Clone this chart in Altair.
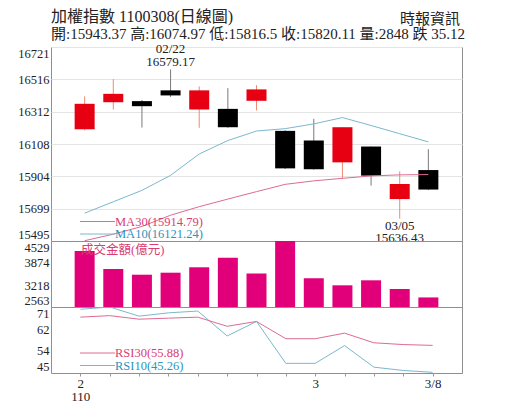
import altair as alt
import pandas as pd

# ---------------- data ----------------
dates = ["02/17", "02/18", "02/19", "02/22", "02/23", "02/24", "02/25",
         "02/26", "03/02", "03/03", "03/04", "03/05", "03/08"]
open_ = [16201, 16372, 16379, 16447, 16326, 16330, 16381, 16191, 16130,
         15992, 16092, 15760, 15943.37]
high = [16409, 16518, 16387, 16579.17, 16472, 16461, 16480, 16195, 16267,
        16214, 16092, 15935, 16074.97]
low = [16195, 16326, 16212, 16405, 16210, 16210, 16320, 15950, 15945,
       15887, 15845, 15636.43, 15816.5]
close = [16362, 16425, 16347, 16415, 16447, 16214, 16453, 15954, 15948,
         16214, 15908, 15855.23, 15820.11]
volume = [4231, 3695, 3525, 3585, 3746, 4032, 3561, 4529, 3418, 3209,
          3358, 3099, 2848]
ma10 = [15671, 15743, 15815, 15910, 16045, 16130, 16190, 16205, 16235,
        16275, 16225, 16173, 16121.24]
ma30 = [15497, 15538, 15587, 15658, 15712, 15760, 15807, 15853, 15875,
        15891, 15906, 15913, 15914.79]
rsi10 = [70.1, 71.0, 67.4, 68.7, 69.4, 59.6, 65.3, 48.8, 48.8, 55.8, 47.3,
         46.0, 45.26]
rsi30 = [67.0, 67.6, 66.2, 66.6, 67.0, 63.4, 65.3, 58.5, 58.5, 60.7, 56.9,
         56.2, 55.88]

price_ticks = [15495, 15699, 15904, 16108, 16312, 16516, 16721]
vol_ticks = [2563, 3218, 3874, 4529]
rsi_ticks = [45, 54, 62, 71]
x_label_pos = [1, 9, 13]
x_label_text = [["2", "110"], "3", "3/8"]

title_text = "加權指數 1100308(日線圖)"
info_text = "開:15943.37 高:16074.97 低:15816.5 收:15820.11 量:2848 跌 35.12"
source_text = "時報資訊"
vol_title = "成交金額(億元)"

idx = list(range(1, len(dates) + 1))
df = pd.DataFrame({"i": idx, "date": dates, "open": open_, "high": high,
                   "low": low, "close": close, "vol": volume,
                   "ma10": ma10, "ma30": ma30, "rsi10": rsi10,
                   "rsi30": rsi30})

# ---------------- styles ----------------
W = 411
H1, H2, H3 = 194, 66, 66
SERIF = "Liberation Serif, Noto Sans CJK TC"
RED = "#e60012"
RED_WICK = "#f08a70"
BLK_WICK = "#7a7a7a"
PINK = "#d93d73"
PINK_LINE = "#dd6b92"
BLUE = "#2d93bd"
BLUE_LINE = "#7ab8cf"
MAG = "#e2007a"
TXT = "#222222"

xs = alt.Scale(domain=[0, len(dates) + 1], nice=False)
x_none = alt.X("i:Q", scale=xs, axis=None)
up = "datum.close >= datum.open"


def one(text):
    return pd.DataFrame({"t": [text]})


def label(text, x, y, color, size, align="left", baseline="middle"):
    return alt.Chart(one(text)).mark_text(
        align=align, baseline=baseline, color=color, font=SERIF,
        fontSize=size).encode(x=alt.value(x), y=alt.value(y), text="t:N")


def swatch(x1, x2, y, color):
    return alt.Chart(one("s")).mark_rule(color=color, strokeWidth=1).encode(
        x=alt.value(x1), x2=alt.value(x2), y=alt.value(y))


def y_axis(vals, grid):
    return alt.Axis(values=vals, title=None, grid=grid, gridColor="#e4e4e4",
                    ticks=False, domain=False, labelFlush=True,
                    labelOverlap=False, labelBound=False, format="d",
                    labelFont=SERIF, labelFontSize=12.5, labelColor=TXT,
                    labelPadding=2)


# ---------------- price panel ----------------
ps = alt.Scale(domain=[price_ticks[0], price_ticks[-1]], nice=False, zero=False)
PA = y_axis(price_ticks, True)


def py(field):
    return alt.Y(f"{field}:Q", scale=ps, axis=PA)


wick = alt.Chart(df).mark_rule(strokeWidth=1).encode(
    x=x_none, y=py("low"), y2="high:Q",
    color=alt.condition(up, alt.value(RED_WICK), alt.value(BLK_WICK)))
body = alt.Chart(df).mark_bar(size=20).encode(
    x=x_none, y=py("open"), y2="close:Q",
    color=alt.condition(up, alt.value(RED), alt.value("#000000")))
l_ma10 = alt.Chart(df).mark_line(strokeWidth=1, color=BLUE_LINE).encode(
    x=x_none, y=py("ma10"))
l_ma30 = alt.Chart(df).mark_line(strokeWidth=1, color=PINK_LINE).encode(
    x=x_none, y=py("ma30"))

hi_k = high.index(max(high))
lo_k = low.index(min(low))
df_hi = pd.DataFrame({"i": [idx[hi_k]], "v": [high[hi_k]],
                      "d": [dates[hi_k]], "s": [f"{high[hi_k]:.2f}"]})
df_lo = pd.DataFrame({"i": [idx[lo_k]], "v": [low[lo_k]],
                      "d": [dates[lo_k]], "s": [f"{low[lo_k]:.2f}"]})


def ann(d, field, dy):
    return alt.Chart(d).mark_text(font=SERIF, fontSize=13, color=TXT,
                                  baseline="middle", dy=dy).encode(
        x=x_none, y=py("v"), text=f"{field}:N")


price = alt.layer(
    wick, body, l_ma10, l_ma30,
    ann(df_hi, "d", -20), ann(df_hi, "s", -7),
    ann(df_lo, "d", 7), ann(df_lo, "s", 19),
    swatch(29, 64, 174.5, PINK_LINE),
    label(f"MA30({ma30[-1]:.2f})", 64, 174.5, PINK, 12.5),
    swatch(29, 64, 187, BLUE_LINE),
    label(f"MA10({ma10[-1]:.2f})", 64, 187, BLUE, 12.5),
    label(title_text, 0, -25.5, TXT, 16, baseline="alphabetic"),
    label(info_text, 0, -7.7, TXT, 15, baseline="alphabetic"),
    label(source_text, 409, -23, TXT, 15, align="right",
          baseline="alphabetic"),
).properties(width=W, height=H1)

# ---------------- volume panel ----------------
vs = alt.Scale(domain=[vol_ticks[0], vol_ticks[-1]], nice=False, zero=False)
vbars = alt.Chart(df).mark_bar(size=20, color=MAG).encode(
    x=x_none, y=alt.Y("vol:Q", scale=vs, axis=y_axis(vol_ticks, False)),
    y2=alt.datum(vol_ticks[0]))
vol = alt.layer(
    vbars,
    label(vol_title, 30, 9, PINK, 12.5),
).properties(width=W, height=H2)

# ---------------- RSI panel ----------------
rs = alt.Scale(domain=[rsi_ticks[0], rsi_ticks[-1]], nice=False, zero=False)
RA = y_axis(rsi_ticks, False)


def lab_js(v):
    if isinstance(v, list):
        return "[" + ",".join(f"'{s}'" for s in v) + "]"
    return f"'{v}'"


expr = "''"
for p, t in reversed(list(zip(x_label_pos, x_label_text))):
    expr = f"datum.value == {p} ? {lab_js(t)} : ({expr})"

x_axis = alt.Axis(values=idx, labelExpr=expr, title=None, domain=False,
                  ticks=True, tickSize=3, tickColor="#999999", grid=False,
                  labelFont=SERIF, labelFontSize=13, labelColor=TXT,
                  labelPadding=1, labelLineHeight=13, labelFlush=False,
                  labelOverlap=False)
x_rsi = alt.X("i:Q", scale=xs, axis=x_axis)

r10 = alt.Chart(df).mark_line(strokeWidth=1, color=BLUE_LINE,
                              clip=True).encode(
    x=x_rsi, y=alt.Y("rsi10:Q", scale=rs, axis=RA))
r30 = alt.Chart(df).mark_line(strokeWidth=1, color=PINK_LINE,
                              clip=True).encode(
    x=x_rsi, y=alt.Y("rsi30:Q", scale=rs, axis=RA))
rsi = alt.layer(
    r10, r30,
    swatch(29, 64, 46, PINK_LINE),
    label(f"RSI30({rsi30[-1]:.2f})", 64, 46, PINK, 12.5),
    swatch(29, 64, 58.5, BLUE_LINE),
    label(f"RSI10({rsi10[-1]:.2f})", 64, 58.5, BLUE, 12.5),
).properties(width=W, height=H3)

chart = alt.vconcat(price, vol, rsi, spacing=0, bounds="flush").properties(
    padding={"left": 9, "top": 0, "right": 5, "bottom": 5},
    background="white",
).configure_view(stroke="#8f8f8f", strokeWidth=1).configure_axis(
    labelOverlap=False)

chart.save("out.html", embed_options={"renderer": "svg", "actions": False})
